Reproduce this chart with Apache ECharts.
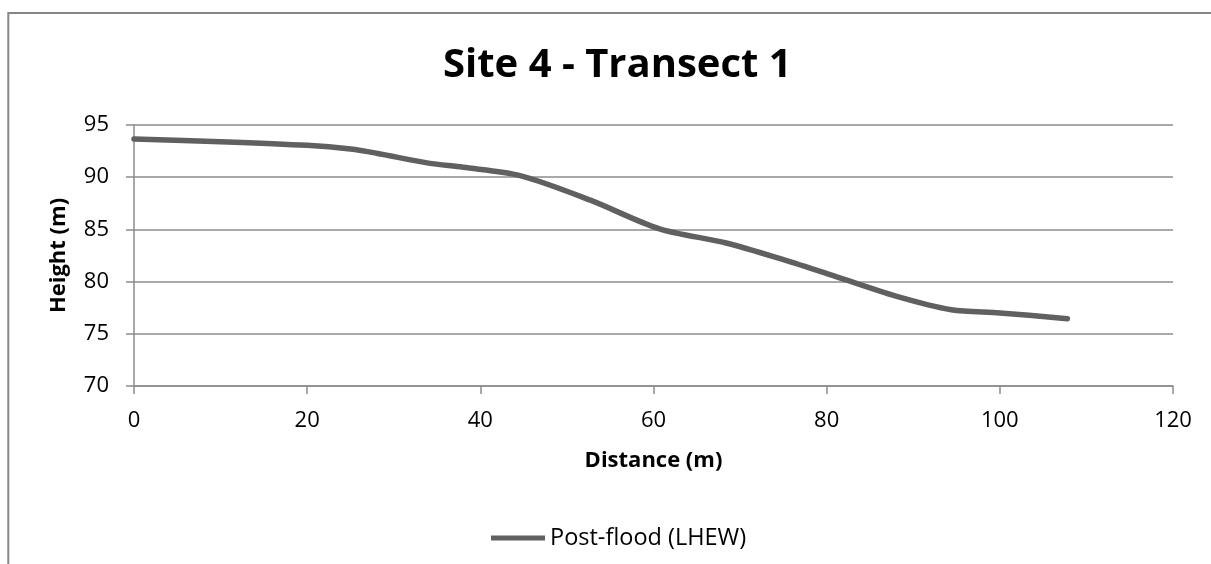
<!DOCTYPE html>
<html>
<head>
<meta charset="utf-8">
<script src="https://cdn.jsdelivr.net/npm/echarts@6/dist/echarts.min.js"></script>
<style>
html,body{margin:0;padding:0;background:#fff;}
#c{width:1211px;height:564px;}
</style>
</head>
<body>
<div id="c"></div>
<script>
var titleText = 'Site 4 - Transect 1';
var seriesName = 'Post-flood (LHEW)';
var xAxisName = 'Distance (m)';
var yAxisName = 'Height (m)';
var distance = [0, 10, 20, 25, 28, 34, 38, 44.6, 52.7, 60.7, 68.4, 75, 81, 88, 94.4, 100, 107.8];
var height = [93.65, 93.4, 93.05, 92.7, 92.3, 91.35, 90.95, 90.15, 87.8, 85.05, 83.7, 82.1, 80.5, 78.6, 77.3, 77.0, 76.45];
var xTicks = {min: 0, max: 120, interval: 20};
var yTicks = {min: 70, max: 95, interval: 5};

var font = '"Open Sans", "Liberation Sans", sans-serif';
var chart = echarts.init(document.getElementById('c'), null, {renderer: 'canvas'});
var pts = distance.map(function (d, i) { return [d, height[i]]; });
chart.setOption({
  animation: false,
  backgroundColor: '#fff',
  graphic: [{
    type: 'rect', silent: true,
    shape: {x: 8.3, y: 13, width: 1400, height: 700},
    style: {fill: 'none', stroke: '#878787', lineWidth: 2}
  }],
  title: {
    text: titleText, left: 438, top: 41,
    textStyle: {fontFamily: font, fontWeight: 'bold', fontSize: 40, color: '#000'}
  },
  legend: {
    top: 521, left: 486,
    itemWidth: 54, itemHeight: 5, itemGap: 10,
    textStyle: {fontFamily: font, fontSize: 23.5, color: '#000'},
    data: [{name: seriesName, icon: 'rect'}]
  },
  grid: {left: 134, right: 38, top: 125, bottom: 178},
  xAxis: {
    type: 'value', min: xTicks.min, max: xTicks.max, interval: xTicks.interval,
    name: xAxisName, nameLocation: 'middle', nameGap: 64,
    nameTextStyle: {fontFamily: font, fontWeight: 'bold', fontSize: 22, color: '#000'},
    axisLine: {show: true, lineStyle: {color: '#8c8c8c', width: 1.5}},
    axisTick: {show: true, length: 8, lineStyle: {color: '#8c8c8c', width: 1.5}},
    axisLabel: {margin: 24, fontFamily: font, fontSize: 22, color: '#000'},
    splitLine: {show: false}
  },
  yAxis: {
    type: 'value', min: yTicks.min, max: yTicks.max, interval: yTicks.interval,
    name: yAxisName, nameLocation: 'middle', nameGap: 64,
    nameTextStyle: {fontFamily: font, fontWeight: 'bold', fontSize: 22, color: '#000'},
    axisLine: {show: true, lineStyle: {color: '#8c8c8c', width: 1.5}},
    axisTick: {show: true, length: 8, lineStyle: {color: '#8c8c8c', width: 1.5}},
    axisLabel: {margin: 25, fontFamily: font, fontSize: 22, color: '#000'},
    splitLine: {show: true, lineStyle: {color: '#8c8c8c', width: 1.5}}
  },
  series: [{
    name: seriesName, type: 'line', data: pts,
    smooth: 0.3, showSymbol: false, symbol: 'none',
    lineStyle: {color: '#606060', width: 5.5, cap: 'round'},
    itemStyle: {color: '#606060'}
  }]
});
</script>
</body>
</html>
